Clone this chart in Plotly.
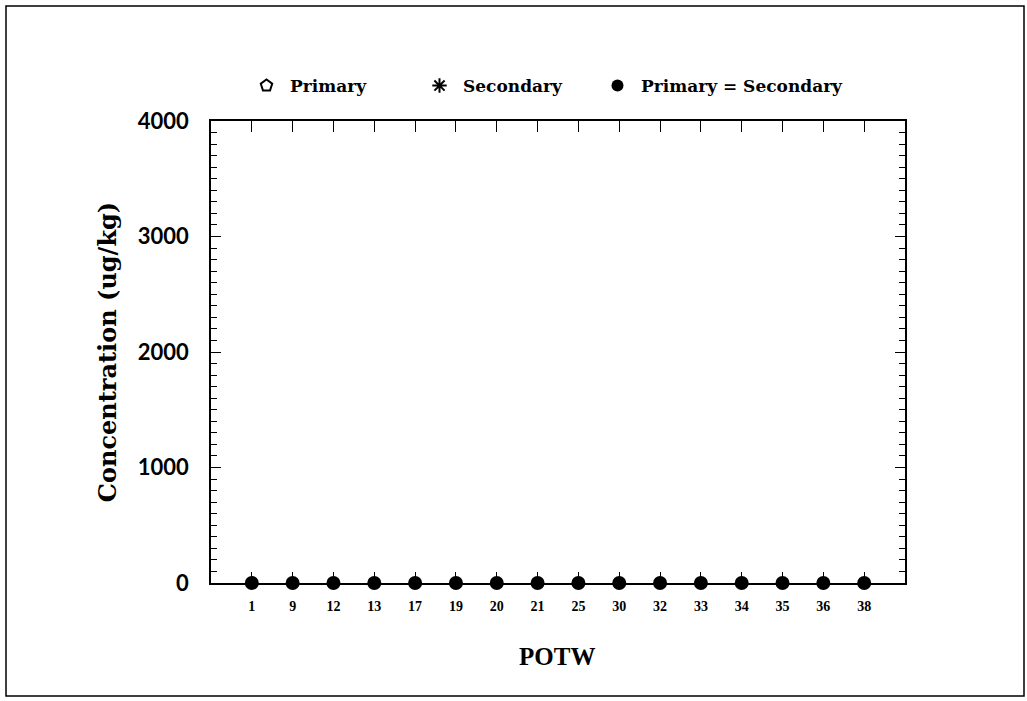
import plotly.graph_objects as go

potw = ["1", "9", "12", "13", "17", "19", "20", "21", "25", "30", "32", "33", "34", "35", "36", "38"]
primary = [0, 0, 0, 0, 0, 0, 0, 0, 0, 0, 0, 0, 0, 0, 0, 0]
secondary = [0, 0, 0, 0, 0, 0, 0, 0, 0, 0, 0, 0, 0, 0, 0, 0]
y_ticks = [0, 1000, 2000, 3000, 4000]

idx = list(range(len(potw)))
eq_x = [i for i in idx if primary[i] == secondary[i]]
eq_y = [primary[i] for i in eq_x]
p_x = [i for i in idx if primary[i] != secondary[i]] or [None]
p_y = [primary[i] for i in idx if primary[i] != secondary[i]] or [None]
s_x = [i for i in idx if primary[i] != secondary[i]] or [None]
s_y = [secondary[i] for i in idx if primary[i] != secondary[i]] or [None]

fig = go.Figure()
fig.add_trace(go.Scatter(x=p_x, y=p_y, mode="markers", name="Primary", legend="legend",
                         marker=dict(symbol="pentagon-open", size=15, color="black", line=dict(width=1.5)),
                         cliponaxis=False))
fig.add_trace(go.Scatter(x=s_x, y=s_y, mode="markers", name="Secondary", legend="legend2",
                         marker=dict(symbol="asterisk-open", size=13, color="black", line=dict(width=1)),
                         cliponaxis=False))
fig.add_trace(go.Scatter(x=eq_x, y=eq_y, mode="markers", name="Primary = Secondary", legend="legend3",
                         marker=dict(symbol="circle", size=14, color="black"),
                         cliponaxis=False))

L, R, T, B = 211, 905, 121, 583
W, H = 1027, 701
pw, ph = R - L, B - T

def px(x):
    return (x - L) / pw

def py(y):
    return (B - y) / ph

fig.add_shape(type="rect", xref="paper", yref="paper",
              x0=px(6), x1=px(1024), y0=py(6), y1=py(696),
              line=dict(color="black", width=1.5))

fig.add_annotation(text="POTW", xref="paper", yref="paper", x=px(557), y=py(656),
                   xanchor="center", yanchor="middle",
                   showarrow=False, font=dict(family="Liberation Serif", size=25, color="black", weight="bold"))

leg_font = dict(family="DejaVu Serif", size=17, color="black", weight="bold")

def leg(xpix):
    return dict(orientation="h", x=px(xpix), xanchor="left", y=py(86), yanchor="middle",
                font=leg_font, bgcolor="rgba(0,0,0,0)", itemsizing="constant", itemwidth=37)

fig.update_layout(
    width=W, height=H,
    margin=dict(l=L, r=W - R, t=T, b=H - B, pad=0),
    paper_bgcolor="white", plot_bgcolor="white",
    showlegend=True,
    legend=leg(243),
    legend2=leg(416),
    legend3=leg(594),
    xaxis=dict(range=[-1, len(potw)], tickmode="array", tickvals=idx, ticktext=potw,
               showgrid=False, zeroline=False, showline=True, linecolor="black", linewidth=1.5,
               mirror="ticks", ticks="inside", ticklen=11, tickcolor="black", tickwidth=1.2,
               ticklabelstandoff=9,
               tickfont=dict(family="Liberation Serif", size=14, color="black", weight="bold")),
    yaxis=dict(range=[0, 4000], tickmode="array", tickvals=y_ticks,
               showgrid=False, zeroline=False, showline=True, linecolor="black", linewidth=1.5,
               mirror="ticks", ticks="inside", ticklen=10, tickcolor="black", tickwidth=1.2,
               ticklabelstandoff=16,
               minor=dict(dtick=100, ticks="inside", ticklen=6, tickcolor="black", tickwidth=1),
               tickfont=dict(family="Lato", size=22, color="black", weight="bold"),
               title=dict(text="Concentration (ug/kg)", standoff=14,
                          font=dict(family="DejaVu Serif", size=24, color="black", weight="bold"))),
)

fig.write_html("out.html")
